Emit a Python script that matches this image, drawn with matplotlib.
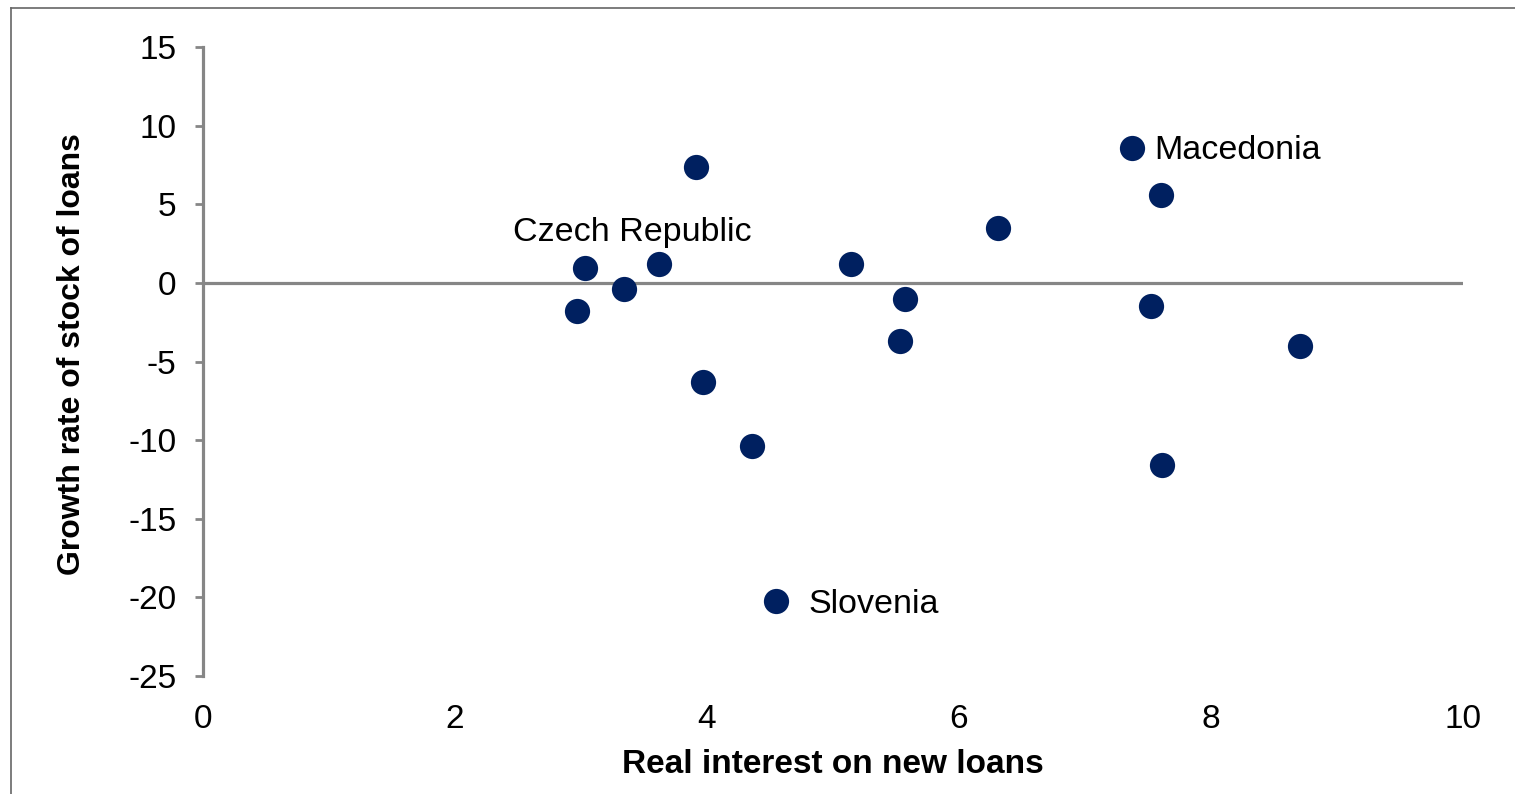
import matplotlib
matplotlib.use("Agg")
import matplotlib.pyplot as plt
from matplotlib.lines import Line2D

# ---- data ----
real_interest = [2.97, 3.03, 3.34, 3.62, 3.91, 3.97, 4.36, 4.55, 5.14, 5.53, 5.57,
                 6.31, 7.37, 7.60, 7.52, 7.61, 8.71]
loan_growth = [-1.8, 0.95, -0.4, 1.2, 7.4, -6.3, -10.4, -20.2, 1.2, -3.7, -1.0,
               3.5, 8.6, 5.6, -1.5, -11.6, -4.0]
label_names = ["Czech Republic", "Macedonia", "Slovenia"]
label_index = [1, 12, 7]
x_ticks = [0, 2, 4, 6, 8, 10]
y_ticks = [15, 10, 5, 0, -5, -10, -15, -20, -25]
x_title = "Real interest on new loans"
y_title = "Growth rate of stock of loans"

plt.rcParams['font.family'] = ['Liberation Sans', 'DejaVu Sans']

W, H, DPI = 1515, 794, 100
fig = plt.figure(figsize=(W / DPI, H / DPI), dpi=DPI)
ax = fig.add_axes([203 / W, 1 - 676 / H, (1463 - 203) / W, (676 - 47) / H])

axis_gray = '#868686'
navy = '#002060'

ax.scatter(real_interest, loan_growth, s=330, color=navy, zorder=3, linewidths=0)

ax.set_xlim(0, 10)
ax.set_ylim(-25, 15)
ax.set_xticks(x_ticks)
ax.set_yticks(y_ticks)
ax.set_xticklabels([str(t) for t in x_ticks])
ax.set_yticklabels([str(t) for t in y_ticks])

for s in ['top', 'right', 'bottom']:
    ax.spines[s].set_visible(False)
ax.spines['left'].set_color(axis_gray)
ax.spines['left'].set_linewidth(2.3)
ax.axhline(0, color=axis_gray, linewidth=2.3, zorder=1)

ax.tick_params(axis='y', direction='out', length=6, width=2.0, color=axis_gray,
               labelsize=24, pad=13)
ax.tick_params(axis='x', length=0, labelsize=24, pad=20)

ax.set_xlabel(x_title, fontsize=24, fontweight='bold')
ax.xaxis.set_label_coords(0.5, -(749 - 676) / 629)
ax.set_ylabel(y_title, fontsize=23, fontweight='bold')
ax.yaxis.set_label_coords((87 - 203) / 1260, 1 - (354 - 47) / 629)

offsets = {"Czech Republic": (-72, 35), "Macedonia": (23, -3), "Slovenia": (32, -4)}
for name, idx in zip(label_names, label_index):
    ax.annotate(name, (real_interest[idx], loan_growth[idx]),
                xytext=offsets[name], textcoords='offset pixels',
                ha='left', va='center', fontsize=24.5)

# figure frame (left and top edges)
fig.add_artist(Line2D([10.5 / W, 10.5 / W], [0, 1 - 8 / H], transform=fig.transFigure,
                      color='#666666', linewidth=1.2))
fig.add_artist(Line2D([10.5 / W, 1], [1 - 8 / H, 1 - 8 / H], transform=fig.transFigure,
                      color='#666666', linewidth=1.2))

fig.savefig("out.png", dpi=DPI)
